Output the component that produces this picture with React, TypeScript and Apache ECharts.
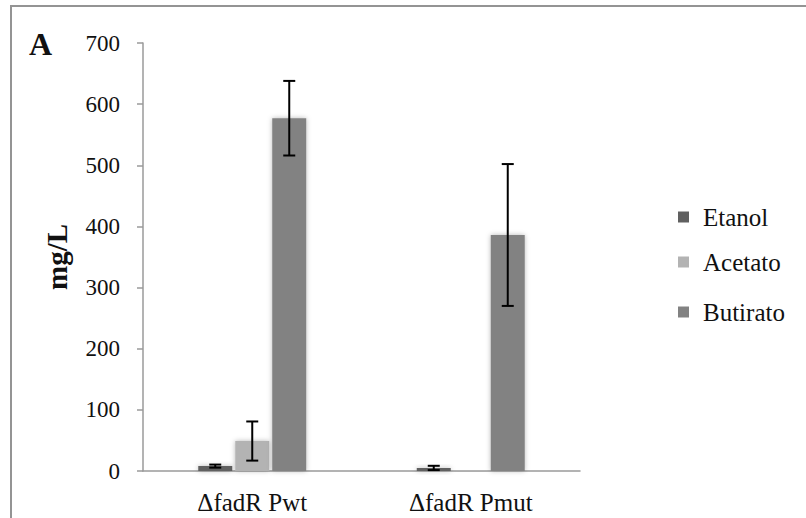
import React, { useEffect, useRef } from "react";
import * as echarts from "echarts";

// Fermentation products (mg/L) per strain, with standard deviation
const categories = ["ΔfadR Pwt", "ΔfadR Pmut"];
const seriesNames = ["Etanol", "Acetato", "Butirato"];
const etanol = [8, 5];
const etanolErr = [2.5, 3.5];
const acetato = [49, 0.8];
const acetatoErr = [32, 0];
const butirato = [577, 386];
const butiratoErr = [61, 116];
const yTicks = { min: 0, max: 700, interval: 100 };

const barColors = ["#606060", "#b3b3b3", "#828282"];
const BAR_W = 34;
const BAR_GAP = 3;

export default function App() {
  const ref = useRef<HTMLDivElement>(null);

  useEffect(() => {
    if (!ref.current) return;
    const chart = echarts.init(ref.current, null, { renderer: "svg" });

    const values = [etanol, acetato, butirato];
    const errors = [etanolErr, acetatoErr, butiratoErr];

    // one record per error bar: [category index, mean, sd, series index]
    const errData: number[][] = [];
    values.forEach((vals, s) => {
      vals.forEach((v, c) => {
        if (errors[s][c] > 0) errData.push([c, v, errors[s][c], s]);
      });
    });

    const serif = "Liberation Serif";

    const barSeries = seriesNames.map((name, i) => ({
      name,
      type: "bar",
      data: values[i],
      barWidth: BAR_W,
      barGap: `${((BAR_GAP / BAR_W) * 100).toFixed(1)}%`,
      itemStyle: {
        color: barColors[i],
        shadowBlur: 5,
        shadowColor: "rgba(0,0,0,0.28)",
        shadowOffsetX: 0,
        shadowOffsetY: 0,
      },
      z: 2,
    }));

    const legendTops = [204, 249, 299];

    chart.setOption({
      animation: false,
      backgroundColor: "#ffffff",
      textStyle: { fontFamily: serif },
      grid: { left: 143, right: 226, top: 43, bottom: 47, containLabel: false },
      graphic: [
        {
          type: "rect",
          shape: { x: 11, y: 6, width: 900, height: 700 },
          style: { fill: "none", stroke: "#949494", lineWidth: 2 },
          silent: true,
        },
        {
          type: "text",
          left: 29,
          top: 28,
          style: {
            text: "A",
            fontFamily: serif,
            fontWeight: "bold",
            fontSize: 32,
            fill: "#111",
          },
        },
      ],
      legend: seriesNames.map((name, i) => ({
        data: [{ name, icon: "rect" }],
        orient: "vertical",
        left: 678,
        top: legendTops[i],
        padding: 0,
        itemWidth: 11,
        itemHeight: 11,
        selectedMode: false,
        textStyle: {
          fontFamily: serif,
          fontSize: 25,
          color: "#111",
          lineHeight: 26,
          padding: [0, 0, 0, 9],
        },
      })),
      xAxis: {
        type: "category",
        data: categories,
        axisLine: { lineStyle: { color: "#9a9a9a", width: 1.5 } },
        axisTick: { show: false },
        axisLabel: {
          fontFamily: serif,
          fontSize: 25,
          color: "#111",
          margin: 19,
        },
      },
      yAxis: {
        type: "value",
        min: yTicks.min,
        max: yTicks.max,
        interval: yTicks.interval,
        name: "mg/L",
        nameLocation: "middle",
        nameRotate: 90,
        nameGap: 72,
        nameTextStyle: {
          fontFamily: serif,
          fontWeight: "bold",
          fontSize: 29,
          color: "#111",
        },
        axisLine: { show: true, lineStyle: { color: "#9a9a9a", width: 1.5 } },
        axisTick: { show: true, length: 6, lineStyle: { color: "#9a9a9a", width: 1.5 } },
        splitLine: { show: false },
        axisLabel: {
          fontFamily: serif,
          fontSize: 23,
          color: "#111",
          margin: 23,
        },
      },
      series: [
        ...barSeries,
        {
          type: "custom",
          name: "sd",
          data: errData,
          encode: { x: 0, y: 1 },
          z: 10,
          silent: true,
          renderItem: (params: any, api: any) => {
            const c = api.value(0);
            const mean = api.value(1);
            const sd = api.value(2);
            const s = api.value(3);
            const offset = (s - 1) * (BAR_W + BAR_GAP);
            const top = api.coord([c, mean + sd]);
            const bot = api.coord([c, Math.max(mean - sd, 0)]);
            const x = top[0] + offset;
            const half = 6;
            const style = { stroke: "#000", lineWidth: 2 };
            return {
              type: "group",
              children: [
                { type: "line", shape: { x1: x, y1: top[1], x2: x, y2: bot[1] }, style },
                { type: "line", shape: { x1: x - half, y1: top[1], x2: x + half, y2: top[1] }, style },
                { type: "line", shape: { x1: x - half, y1: bot[1], x2: x + half, y2: bot[1] }, style },
              ],
            };
          },
        },
      ],
    });

    return () => chart.dispose();
  }, []);

  return (
    <div
      ref={ref}
      style={{ position: "absolute", left: 0, top: 0, width: 806, height: 518 }}
    />
  );
}
